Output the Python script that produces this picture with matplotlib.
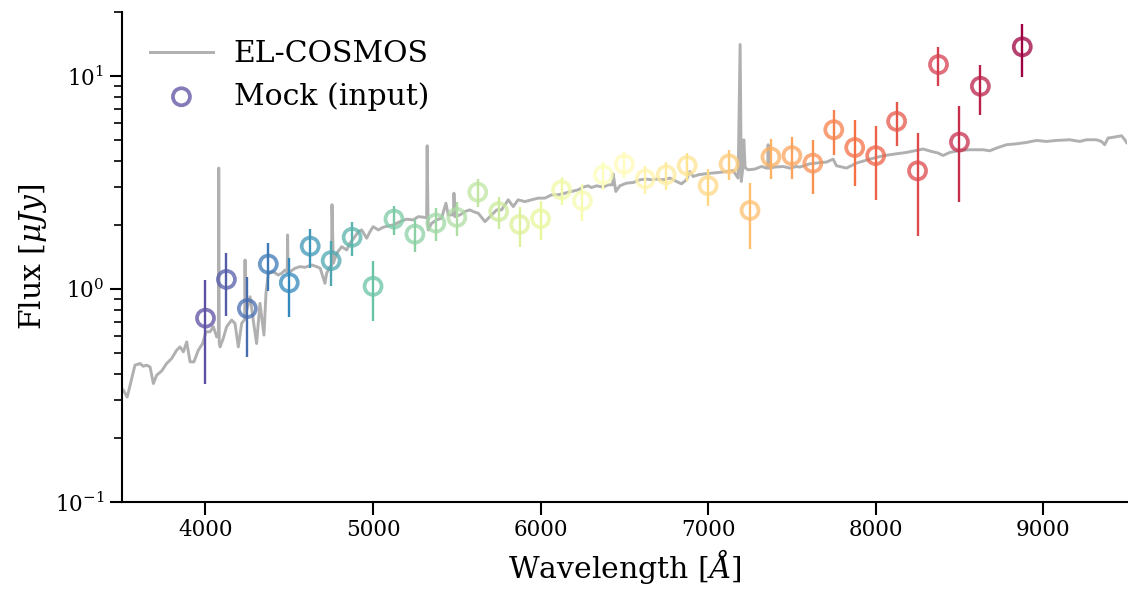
import numpy as np
import matplotlib.pyplot as plt

plt.rcParams['font.family'] = 'DejaVu Serif'
plt.rcParams['mathtext.fontset'] = 'dejavuserif'

# EL-COSMOS template spectrum
spec_wl = [3490, 3510, 3533, 3579, 3609, 3629, 3649, 3669, 3689, 3709, 3739, 3768,
           3798, 3828, 3848, 3868, 3888, 3908, 3931, 3957, 3983, 4003, 4027, 4047,
           4067, 4077, 4079, 4082, 4087, 4106, 4126, 4156, 4176, 4196, 4216, 4234,
           4236, 4240, 4246, 4266, 4285, 4305, 4325, 4349, 4361, 4375, 4405, 4434,
           4455, 4474, 4488, 4490, 4493, 4504, 4534, 4564, 4594, 4634, 4664, 4685,
           4713, 4723, 4743, 4752, 4755, 4763, 4783, 4813, 4843, 4862, 4892, 4912,
           4932, 4962, 4982, 5001, 5031, 5061, 5091, 5121, 5161, 5201, 5240, 5270,
           5300, 5320, 5323, 5329, 5350, 5380, 5409, 5435, 5449, 5480, 5483, 5489,
           5519, 5548, 5578, 5598, 5628, 5668, 5698, 5738, 5767, 5787, 5807, 5837,
           5866, 5906, 5946, 5986, 6026, 6066, 6105, 6145, 6185, 6225, 6254, 6284,
           6304, 6334, 6374, 6403, 6430, 6433, 6449, 6473, 6513, 6553, 6593, 6633,
           6662, 6692, 6732, 6772, 6812, 6841, 6871, 6891, 6911, 6941, 6981, 7020,
           7060, 7110, 7149, 7179, 7191, 7198, 7207, 7213, 7221, 7239, 7279, 7319,
           7349, 7356, 7358, 7362, 7398, 7448, 7488, 7528, 7547, 7607, 7677, 7707,
           7746, 7766, 7826, 7886, 7965, 8044, 8124, 8184, 8244, 8283, 8333, 8373,
           8402, 8442, 8502, 8562, 8641, 8681, 8721, 8781, 8841, 8900, 8960, 9019,
           9079, 9158, 9218, 9258, 9318, 9348, 9367, 9387, 9427, 9467, 9487, 9499,
           9510]
spec_flux = [0.347, 0.335, 0.311, 0.439, 0.447, 0.434, 0.439, 0.431, 0.360, 0.394, 0.413, 0.447,
             0.472, 0.516, 0.535, 0.507, 0.565, 0.455, 0.455, 0.516, 0.555, 0.630, 0.630, 0.665,
             0.596, 0.600, 3.70, 0.560, 0.535, 0.586, 0.665, 0.715, 0.690, 0.535, 0.690, 0.720,
             1.37, 0.760, 0.797, 0.920, 0.715, 0.555, 0.857, 0.608, 0.954, 1.186, 1.206, 1.164,
             1.186, 1.228, 1.20, 1.795, 1.20, 1.206, 1.251, 1.274, 1.265, 1.297, 1.274, 1.251,
             1.064, 1.186, 1.274, 1.28, 2.49, 1.321, 1.472, 1.581, 1.526, 1.641, 1.762, 1.861,
             1.895, 1.733, 1.861, 1.964, 1.895, 1.951, 1.979, 2.000, 2.073, 2.128, 2.112, 2.188,
             2.175, 2.16, 4.71, 1.895, 2.038, 2.112, 2.151, 2.53, 2.229, 2.23, 2.82, 2.188,
             2.229, 2.311, 2.354, 2.311, 2.27, 2.073, 2.188, 2.354, 2.354, 2.485, 2.624, 2.44,
             2.624, 2.575, 2.624, 2.673, 2.673, 2.770, 2.770, 2.82, 2.871, 2.924, 3.01, 3.053,
             2.997, 3.053, 3.01, 3.086, 3.09, 3.476, 2.871, 3.053, 3.144, 3.164, 3.26, 3.283,
             3.26, 3.283, 3.26, 3.319, 3.198, 3.12, 3.26, 3.565, 3.377, 3.44, 3.476, 3.503,
             3.525, 3.565, 3.603, 3.319, 14.07, 3.20, 3.71, 5.02, 3.71, 3.63, 3.659, 3.763,
             3.698, 3.70, 4.76, 3.70, 3.739, 3.763, 3.698, 3.763, 3.739, 3.874, 3.93, 3.947,
             4.075, 3.793, 3.698, 3.905, 4.075, 4.227, 4.317, 4.38, 4.477, 4.545, 4.427, 4.351,
             4.238, 4.38, 4.477, 4.51, 4.51, 4.459, 4.592, 4.761, 4.81, 4.88, 4.987, 4.933,
             4.987, 5.024, 4.933, 5.024, 5.024, 4.933, 4.761, 5.118, 5.175, 5.248, 5.024, 4.85,
             4.80]

# mock narrow-band photometry (8750 band has no measurement)
band_wl = [4000, 4125, 4250, 4375, 4500, 4625, 4750, 4875, 5000, 5125,
           5250, 5375, 5500, 5625, 5750, 5875, 6000, 6125, 6250, 6375,
           6500, 6625, 6750, 6875, 7000, 7125, 7250, 7375, 7500, 7625,
           7750, 7875, 8000, 8125, 8250, 8375, 8500, 8625, 8875]
band_flux = [0.73, 1.11, 0.81, 1.31, 1.07, 1.59, 1.36, 1.75, 1.03, 2.13,
             1.81, 2.04, 2.17, 2.85, 2.31, 2.01, 2.14, 2.92, 2.60, 3.44,
             3.86, 3.29, 3.44, 3.80, 3.06, 3.87, 2.34, 4.17, 4.23, 3.90,
             5.60, 4.62, 4.23, 6.13, 3.59, 11.33, 4.90, 8.96, 13.72]
band_err = [0.37, 0.36, 0.33, 0.33, 0.33, 0.33, 0.33, 0.32, 0.32, 0.33,
            0.32, 0.35, 0.39, 0.42, 0.39, 0.43, 0.44, 0.44, 0.52, 0.53,
            0.54, 0.49, 0.53, 0.57, 0.60, 0.62, 0.80, 0.90, 0.94, 1.10,
            1.35, 1.57, 1.60, 1.45, 1.82, 2.35, 2.35, 2.36, 3.80]

all_bands = np.arange(4000, 9000, 125)
cmap = plt.cm.Spectral_r(np.linspace(0, 1, len(all_bands)))
colors = [cmap[list(all_bands).index(w)] for w in band_wl]

fig = plt.figure(figsize=(11.28, 5.91), dpi=100)
ax = fig.add_axes([0.1079, 0.1506, 0.8912, 0.8291])

ax.plot(spec_wl, spec_flux, color='#b0b0b0', lw=2.1, label='EL-COSMOS', zorder=1)
ax.errorbar(band_wl, band_flux, yerr=band_err, fmt='none', ecolor=colors,
            elinewidth=1.7, zorder=2)
ax.scatter(band_wl, band_flux, s=150, facecolors='none', edgecolors=colors,
           linewidths=2.7, alpha=0.75, label='Mock (input)', zorder=3)

ax.set_yscale('log')
ax.set_xlim(3500, 9500)
ax.set_ylim(0.1, 20)
ax.set_xlabel(r'Wavelength [$Å$]', fontsize=21.5)
ax.set_ylabel(r'Flux [$\mu Jy$]', fontsize=21.5)
ax.tick_params(which='major', length=9, width=1.5, labelsize=15.5)
ax.tick_params(which='minor', length=5.5, width=1.2)
for s in ['top', 'right']:
    ax.spines[s].set_visible(False)
for s in ['left', 'bottom']:
    ax.spines[s].set_linewidth(1.5)

ax.legend(loc='upper left', frameon=False, fontsize=21.5, handlelength=2.1,
          handletextpad=0.7, borderaxespad=0.55, labelspacing=0.45)

fig.savefig('out.png', dpi=100)
